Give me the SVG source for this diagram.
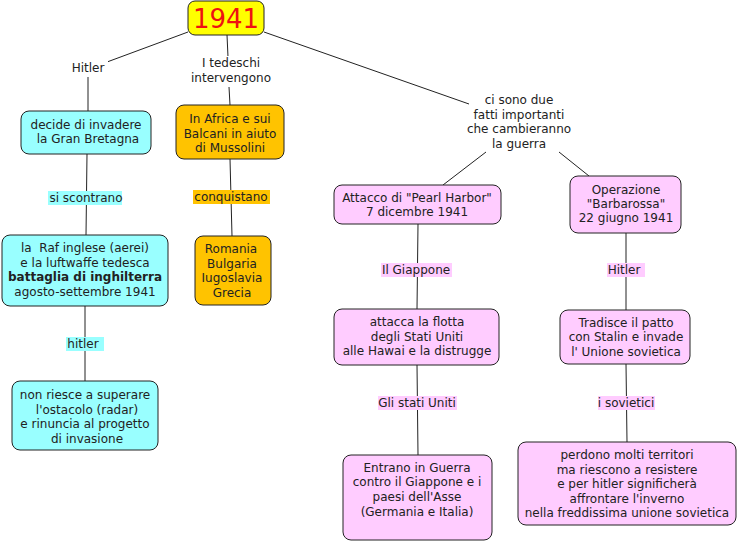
<svg xmlns="http://www.w3.org/2000/svg" width="739" height="543" viewBox="0 0 739 543">
<style>
text{font-family:"DejaVu Sans",Verdana,sans-serif;font-size:12px;fill:#222;text-anchor:middle}
.n rect{stroke:#222;stroke-width:1}
.c{fill:#99ffff}.o{fill:#ffc300}.p{fill:#ffccff}.y{fill:#ffff00}
#connectors line{stroke:#222;stroke-width:1}
.lc{fill:#99ffff}.lo{fill:#ffc300}.lp{fill:#ffccff}
</style>
<rect width="739" height="543" fill="#fff"/>
<g id="connectors">
<line x1="188" y1="32" x2="107" y2="62"/>
<line x1="88" y1="77" x2="88" y2="111"/>
<line x1="227" y1="35" x2="228" y2="57"/>
<line x1="229" y1="87" x2="230" y2="105"/>
<line x1="264" y1="32" x2="469" y2="104"/>
<line x1="486" y1="152" x2="443" y2="185"/>
<line x1="559" y1="152" x2="589" y2="176"/>
<line x1="87" y1="154" x2="86" y2="235"/>
<line x1="230" y1="159" x2="232" y2="236"/>
<line x1="85" y1="306" x2="85" y2="381"/>
<line x1="418" y1="224" x2="417" y2="309"/>
<line x1="626" y1="233" x2="626" y2="310"/>
<line x1="417" y1="365" x2="418" y2="455"/>
<line x1="626" y1="364" x2="627" y2="442"/>
</g>
<g id="labels">
<g id="l-hitler1"><rect x="68" y="60" width="40" height="16" fill="#fff"/><text x="88" y="72">Hitler</text></g>
<g id="l-tedeschi"><rect x="190" y="56" width="82" height="31" fill="#fff"/><text x="231" y="67">I tedeschi</text><text x="231" y="82">intervengono</text></g>
<g id="l-fatti"><text x="519" y="104">ci sono due</text><text x="519" y="119">fatti importanti</text><text x="519" y="133">che cambieranno</text><text x="519" y="148">la guerra</text></g>
<g id="l-scontrano"><rect class="lc" x="48" y="191" width="74" height="14"/><text x="86" y="202">si scontrano</text></g>
<g id="l-conquistano"><rect class="lo" x="193" y="190" width="77" height="14"/><text x="231" y="201">conquistano</text></g>
<g id="l-hitler2"><rect class="lc" x="66" y="337" width="38" height="14"/><text x="83" y="348">hitler</text></g>
<g id="l-giappone"><rect class="lp" x="381" y="263" width="71" height="14"/><text x="416" y="274">Il Giappone</text></g>
<g id="l-hitler3"><rect class="lp" x="607" y="263" width="38" height="14"/><text x="624" y="274">Hitler</text></g>
<g id="l-stati"><rect class="lp" x="378" y="396" width="79" height="14"/><text x="417" y="407">Gli stati Uniti</text></g>
<g id="l-sovietici"><rect class="lp" x="598" y="396" width="57" height="14"/><text x="626" y="407">i sovietici</text></g>
</g>
<g id="n-1941" class="n"><rect class="y" x="188" y="1" width="76" height="34" rx="7"/><text x="226" y="28" style="font-size:26px;fill:#ee1111">1941</text></g>
<g id="n-invadere" class="n"><rect class="c" x="21" y="111" width="130" height="43" rx="8"/><text x="86" y="129">decide di invadere</text><text x="88" y="143">la Gran Bretagna</text></g>
<g id="n-africa" class="n"><rect class="o" x="176" y="105" width="108" height="54" rx="8"/><text x="230" y="123">In Africa e sui</text><text x="230" y="138">Balcani in aiuto</text><text x="230" y="152">di Mussolini</text></g>
<g id="n-raf" class="n"><rect class="c" x="2" y="235" width="166" height="71" rx="8"/><text x="85" y="252" xml:space="preserve">la  Raf inglese (aerei)</text><text x="85" y="267">e la luftwaffe tedesca</text><text x="85" y="281" style="font-weight:bold">battaglia di inghilterra</text><text x="85" y="296">agosto-settembre 1941</text></g>
<g id="n-romania" class="n"><rect class="o" x="195" y="236" width="76" height="69" rx="8"/><text x="231" y="253">Romania</text><text x="232" y="268">Bulgaria</text><text x="232" y="282">Iugoslavia</text><text x="232" y="297">Grecia</text></g>
<g id="n-radar" class="n"><rect class="c" x="12" y="381" width="146" height="69" rx="8"/><text x="85" y="399">non riesce a superare</text><text x="87" y="414">l'ostacolo (radar)</text><text x="85" y="428">e rinuncia al progetto</text><text x="87" y="443">di invasione</text></g>
<g id="n-pearl" class="n"><rect class="p" x="334" y="185" width="167" height="39" rx="8"/><text x="417" y="202">Attacco di "Pearl Harbor"</text><text x="417" y="216">7 dicembre 1941</text></g>
<g id="n-barbarossa" class="n"><rect class="p" x="570" y="176" width="111" height="57" rx="8"/><text x="626" y="194">Operazione</text><text x="626" y="208">"Barbarossa"</text><text x="626" y="222">22 giugno 1941</text></g>
<g id="n-flotta" class="n"><rect class="p" x="334" y="309" width="165" height="56" rx="8"/><text x="417" y="326">attacca la flotta</text><text x="417" y="341">degli Stati Uniti</text><text x="417" y="355">alle Hawai e la distrugge</text></g>
<g id="n-patto" class="n"><rect class="p" x="560" y="310" width="130" height="54" rx="8"/><text x="626" y="327">Tradisce il patto</text><text x="626" y="341">con Stalin e invade</text><text x="626" y="356">l' Unione sovietica</text></g>
<g id="n-guerra" class="n"><rect class="p" x="343" y="455" width="149" height="85" rx="8"/><text x="417" y="472">Entrano in Guerra</text><text x="417" y="486">contro il Giappone e i</text><text x="417" y="501">paesi dell'Asse</text><text x="417" y="516">(Germania e Italia)</text></g>
<g id="n-territori" class="n"><rect class="p" x="518" y="442" width="218" height="83" rx="8"/><text x="627" y="459">perdono molti territori</text><text x="627" y="474">ma riescono a resistere</text><text x="627" y="488">e per hitler significherà</text><text x="627" y="503">affrontare l'inverno</text><text x="627" y="517">nella freddissima unione sovietica</text></g>
</svg>
